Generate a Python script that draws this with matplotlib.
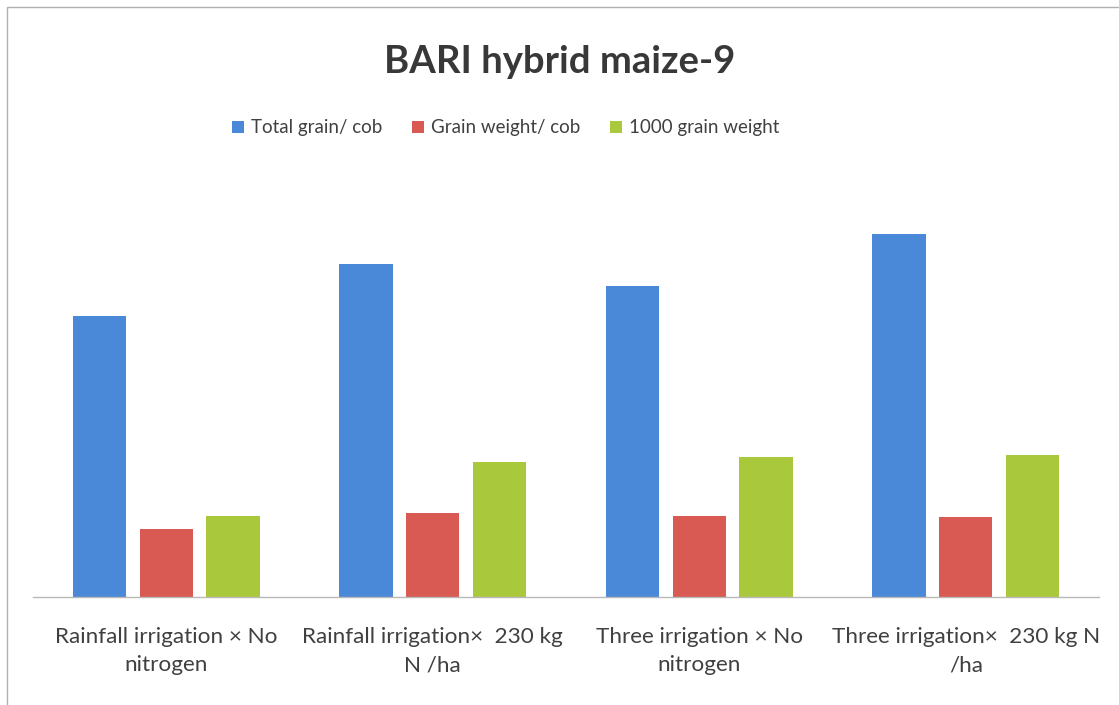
import numpy as np
import matplotlib.pyplot as plt
from matplotlib.patches import Rectangle

plt.rcParams["font.family"] = ["Lato", "DejaVu Sans"]

categories = [
    "Rainfall irrigation × No\nnitrogen",
    "Rainfall irrigation×  230 kg\nN /ha",
    "Three irrigation × No\nnitrogen",
    "Three irrigation×  230 kg N\n/ha",
]
total_grain = [280, 332, 310, 362]
grain_weight = [68, 84, 81, 80]
grain_1000 = [81, 135, 140, 142]

series = [
    ("Total grain/ cob", total_grain, "#4a88d8"),
    ("Grain weight/ cob", grain_weight, "#d85a52"),
    ("1000 grain weight", grain_1000, "#a9c83c"),
]

W, H = 1119, 705
fig = plt.figure(figsize=(W / 100, H / 100), dpi=100)

# light frame around the chart area
fig.patches.append(Rectangle((7 / W, -0.1), 1.2, (H - 7) / H + 0.1,
                             transform=fig.transFigure, fill=False,
                             edgecolor="#b0b0b0", lw=1.0))

ax = fig.add_axes([33 / W, (H - 596.5) / H, 1066 / W, 396 / H])
x = np.arange(len(categories))
width = 0.2
step = 0.25
for i, (label, vals, color) in enumerate(series):
    ax.bar(x + (i - 1) * step, vals, width, color=color, label=label)

ax.set_xlim(-0.5, len(categories) - 0.5)
ax.set_ylim(0, 396)
ax.set_yticks([])
ax.set_xticks(x)
ax.set_xticklabels(categories, fontsize=16.2, color="#404040", linespacing=1.5)
ax.tick_params(axis="x", length=0, pad=22)
for s in ["top", "right", "left"]:
    ax.spines[s].set_visible(False)
ax.spines["bottom"].set_color("#b8b8b8")
ax.spines["bottom"].set_linewidth(1.0)

fig.text(0.5, 1 - 62 / H, "BARI hybrid maize-9", ha="center", va="center",
         fontsize=27.5, fontweight="bold", color="#383838")
fig.legend(loc="center", bbox_to_anchor=(506 / W, 1 - 128 / H), ncol=3,
           frameon=False, fontsize=13.5, handlelength=0.6, handleheight=0.6,
           handletextpad=0.4, columnspacing=1.6, labelcolor="#404040")

fig.savefig("out.png", dpi=100)
